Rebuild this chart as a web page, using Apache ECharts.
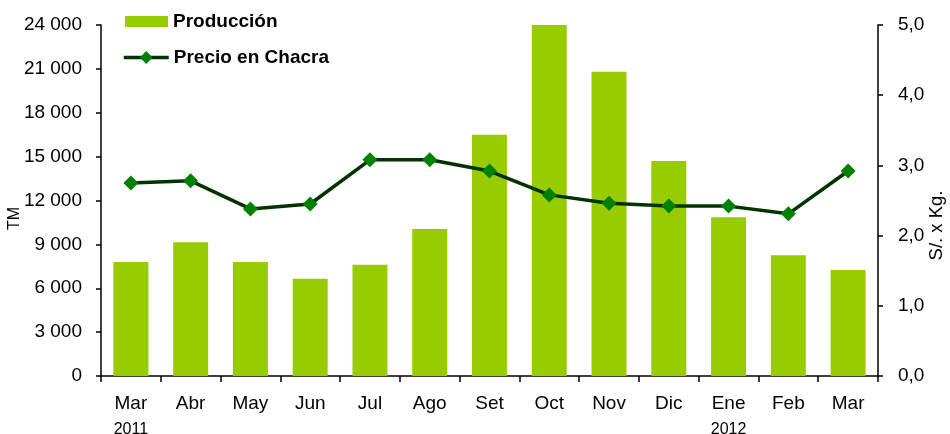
<!DOCTYPE html>
<html>
<head>
<meta charset="utf-8">
<title>Producción y Precio en Chacra</title>
<script src="https://cdn.jsdelivr.net/npm/echarts@6/dist/echarts.min.js"></script>
<style>
  html, body { margin: 0; padding: 0; background: #fff; }
  #chart { width: 950px; height: 434px; }
</style>
</head>
<body>
<div id="chart"></div>
<script>
// meses (mar 2011 - mar 2012)
const months = ['Mar', 'Abr', 'May', 'Jun', 'Jul', 'Ago', 'Set', 'Oct', 'Nov', 'Dic', 'Ene', 'Feb', 'Mar'];
const years = ['2011', '', '', '', '', '', '', '', '', '', '2012', '', ''];

// Producción (TM)
const produccion = [7800, 9150, 7800, 6650, 7600, 10050, 16500, 24000, 20800, 14700, 10850, 8250, 7250];
// Precio en chacra (S/. x Kg.)
const precio = [2.75, 2.78, 2.38, 2.45, 3.08, 3.08, 2.92, 2.58, 2.46, 2.42, 2.42, 2.31, 2.92];

const fontFam = '"Liberation Sans", Arial, sans-serif';

const fmtMiles = v => {
    const s = String(Math.round(v));
    return s.replace(/\B(?=(\d{3})+(?!\d))/g, ' ');
};

const legendText = { fontSize: 19, fontWeight: 'bold', color: '#000', fontFamily: fontFam };

const chart = echarts.init(document.getElementById('chart'));

const option = {
    animation: false,
    textStyle: { fontFamily: fontFam },
    // dos leyendas para poder dar distinto alto al icono
    legend: [
        {
            left: 125,
            top: 12,
            padding: 0,
            itemWidth: 43,
            itemHeight: 11,
            textStyle: legendText,
            data: [{ name: 'Producción', icon: 'rect' }]
        },
        {
            left: 122,
            top: 48,
            padding: 0,
            itemWidth: 45,
            itemHeight: 16,
            textStyle: legendText,
            lineStyle: { width: 3.5 },
            data: [{ name: 'Precio en Chacra' }]
        }
    ],
    grid: {
        left: 101,
        right: 72,
        top: 25,
        bottom: 58,
        outerBoundsMode: 'none',
        containLabel: false
    },
    xAxis: {
        type: 'category',
        data: months,
        axisLine: { lineStyle: { color: '#000', width: 1.5 } },
        axisTick: { show: true, length: 6, inside: false, lineStyle: { color: '#000', width: 1.5 } },
        axisLabel: {
            color: '#000',
            fontSize: 19,
            margin: 15,
            lineHeight: 26,
            interval: 0,
            formatter: (value, idx) => {
                const y = years[idx];
                return y ? value + '\n{yr|' + y + '}' : value;
            },
            rich: {
                yr: { fontSize: 16, color: '#000', lineHeight: 25, fontFamily: fontFam }
            }
        }
    },
    yAxis: [
        {
            type: 'value',
            min: 0,
            max: 24000,
            interval: 3000,
            name: 'TM',
            nameLocation: 'middle',
            nameRotate: 90,
            nameGap: 78,
            nameMoveOverlap: false,
            nameTextStyle: { color: '#000', fontSize: 16, padding: [0, 36, 0, 0] },
            axisLine: { show: true, lineStyle: { color: '#000', width: 1.5 } },
            axisTick: { show: true, length: 5, lineStyle: { color: '#000', width: 1.5 } },
            splitLine: { show: false },
            axisLabel: {
                color: '#000',
                fontSize: 19,
                margin: 19,
                formatter: fmtMiles
            }
        },
        {
            type: 'value',
            min: 0,
            max: 5,
            interval: 1,
            name: 'S/. x Kg.',
            nameLocation: 'middle',
            nameRotate: 90,
            nameGap: 49,
            nameMoveOverlap: false,
            nameTextStyle: { color: '#000', fontSize: 18.5, padding: [0, 50, 0, 0] },
            axisLine: { show: true, lineStyle: { color: '#000', width: 1.5 } },
            axisTick: { show: true, length: 5, lineStyle: { color: '#000', width: 1.5 } },
            splitLine: { show: false },
            axisLabel: {
                color: '#000',
                fontSize: 19,
                margin: 20,
                formatter: v => v.toFixed(1).replace('.', ',')
            }
        }
    ],
    series: [
        {
            name: 'Producción',
            type: 'bar',
            yAxisIndex: 0,
            data: produccion,
            barWidth: 35,
            itemStyle: { color: '#99cc00' }
        },
        {
            name: 'Precio en Chacra',
            type: 'line',
            yAxisIndex: 1,
            data: precio,
            symbol: 'diamond',
            symbolSize: 15,
            lineStyle: { color: '#003300', width: 3.5 },
            itemStyle: { color: '#008000' },
            z: 5
        }
    ]
};

chart.setOption(option);
</script>
</body>
</html>
